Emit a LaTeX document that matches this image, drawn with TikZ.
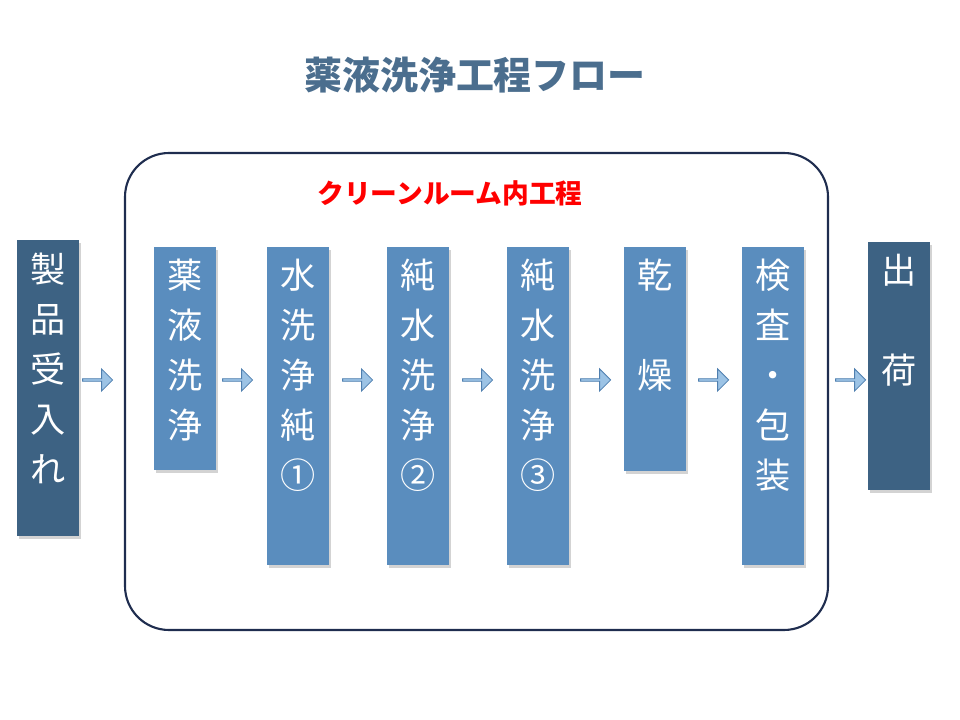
\documentclass[tikz,border=0pt]{standalone}
\usepackage{fontspec}
\setmainfont{Noto Sans CJK JP}
\usetikzlibrary{positioning,shapes.arrows,shadows}
\definecolor{darkbox}{HTML}{3D6283}
\definecolor{lightbox}{HTML}{5A8DBE}
\definecolor{arrowfill}{HTML}{9CC3E5}
\definecolor{arrowline}{HTML}{4F7FAF}
\definecolor{titleblue}{HTML}{4B6E8E}
\definecolor{frameline}{HTML}{1F2D4F}
\tikzset{
  stepbox/.style={rectangle, minimum width=1.55cm, anchor=north, inner sep=0pt,
    drop shadow={shadow xshift=0.06cm, shadow yshift=-0.06cm, opacity=0.35}},
  darkstep/.style={stepbox, fill=darkbox},
  lightstep/.style={stepbox, fill=lightbox},
  vtext/.style={text=white, align=center, anchor=north, inner sep=0pt,
    font=\fontsize{25}{35.5}\selectfont},
  flowarrow/.style={single arrow, fill=arrowfill, draw=arrowline, line width=0.6pt,
    minimum width=0.55cm, minimum height=0.75cm, single arrow head extend=0.08cm,
    inner sep=0pt}
}
\begin{document}
\begin{tikzpicture}[x=0.025cm, y=-0.025cm]
  \useasboundingbox (0,0) rectangle (960,720);
  \node[text=titleblue, font=\bfseries\fontsize{27}{30}\selectfont] (title) at (475,75) {薬液洗浄工程フロー};
  \draw[frameline, line width=1.5pt, rounded corners=1.1cm] (125,153) rectangle (828,630);
  \node[text=red, font=\bfseries\fontsize{19}{22}\selectfont] (clean) at (450,193) {クリーンルーム内工程};

  % outside steps
  \node[darkstep, minimum height=7.4cm] (recv) at (48,240) {};
  \node[vtext, below=0.32cm of recv.north] (recvtxt) {製\\品\\受\\入\\れ};
  \node[darkstep, minimum height=6.2cm] (ship) at (899,242) {};
  \node[vtext, below=0.3cm of ship.north] (shiptxt) {出\\[1.25cm]荷};

  % clean room steps
  \node[lightstep, minimum height=5.57cm] (s1) at (185,247) {};
  \node[vtext, below=0.3cm of s1.north] (t1) {薬\\液\\洗\\浄};
  \node[lightstep, minimum height=7.95cm] (s2) at (298,247) {};
  \node[vtext, below=0.3cm of s2.north] (t2) {水\\洗\\浄\\純\\①};
  \node[lightstep, minimum height=7.95cm] (s3) at (418,247) {};
  \node[vtext, below=0.3cm of s3.north] (t3) {純\\水\\洗\\浄\\②};
  \node[lightstep, minimum height=7.95cm] (s4) at (538,247) {};
  \node[vtext, below=0.3cm of s4.north] (t4) {純\\水\\洗\\浄\\③};
  \node[lightstep, minimum height=5.6cm] (s5) at (655,247) {};
  \node[vtext, below=0.3cm of s5.north] (t5) {乾\\[1.25cm]燥};
  \node[lightstep, minimum height=7.95cm] (s6) at (773,247) {};
  \node[vtext, below=0.3cm of s6.north] (t6) {検\\査\\・\\包\\装};

  % flow arrows
  \foreach \name/\xpos in {a1/97, a2/237, a3/357, a4/477, a5/595, a6/713, a7/850}
    \node[flowarrow] (\name) at (\xpos,380) {};
\end{tikzpicture}
\end{document}
